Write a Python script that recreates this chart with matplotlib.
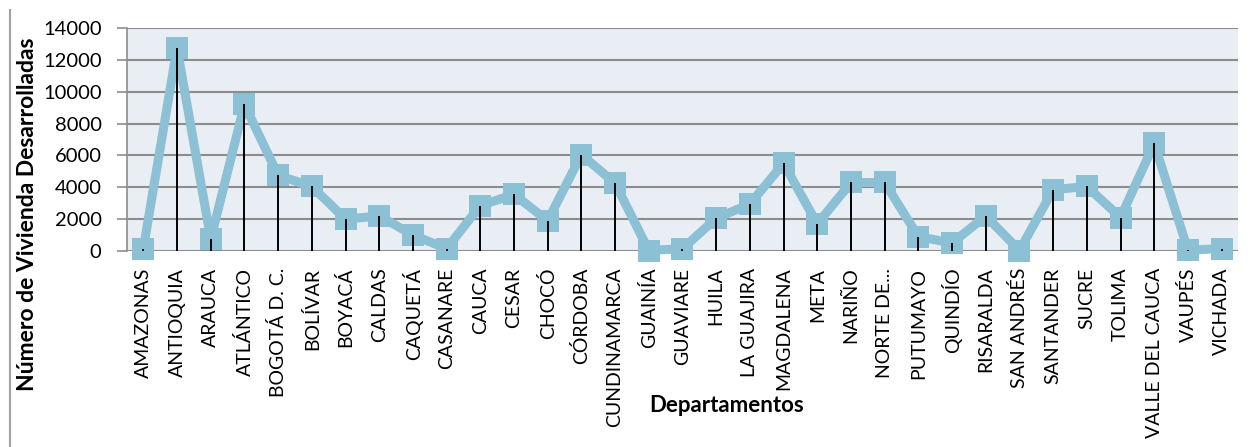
import matplotlib.pyplot as plt
from matplotlib.lines import Line2D

departamentos = ["AMAZONAS", "ANTIOQUIA", "ARAUCA", "ATLÁNTICO", "BOGOTÁ D. C.",
                 "BOLÍVAR", "BOYACÁ", "CALDAS", "CAQUETÁ", "CASANARE", "CAUCA",
                 "CESAR", "CHOCÓ", "CÓRDOBA", "CUNDINAMARCA", "GUAINÍA", "GUAVIARE",
                 "HUILA", "LA GUAJIRA", "MAGDALENA", "META", "NARIÑO", "NORTE DE...",
                 "PUTUMAYO", "QUINDÍO", "RISARALDA", "SAN ANDRÉS", "SANTANDER",
                 "SUCRE", "TOLIMA", "VALLE DEL CAUCA", "VAUPÉS", "VICHADA"]
viviendas = [150, 12750, 750, 9200, 4750, 4050, 2000, 2200, 1000, 150, 2850,
             3550, 1900, 6050, 4250, 30, 150, 2050, 2950, 5500, 1700, 4300, 4300,
             900, 500, 2200, 30, 3850, 4050, 2100, 6750, 50, 150]
yticks = [0, 2000, 4000, 6000, 8000, 10000, 12000, 14000]

plt.rcParams['font.family'] = ['Lato', 'DejaVu Sans']

fig = plt.figure(figsize=(12.5, 4.47), dpi=100, facecolor='white')
ax = fig.add_axes([0.1012, 0.4385, 0.8896, 0.4989])
ax.set_facecolor('#e8eef4')

x = list(range(len(departamentos)))
ax.plot(x, viviendas, color='#8cc0d4', lw=6.5, marker='s', markersize=16,
        markeredgewidth=0, solid_joinstyle='round', clip_on=False, zorder=3)
ax.vlines(x, 0, viviendas, color='black', lw=1.4, zorder=4)

ax.set_xlim(-0.5, len(departamentos) - 0.5)
ax.set_ylim(0, 14000)
ax.set_yticks(yticks)
ax.set_yticklabels([str(v) for v in yticks], fontsize=14.5)
ax.set_xticks(x)
ax.set_xticklabels(departamentos, rotation=90, fontsize=14, va='top', ha='center')
ax.tick_params(axis='x', length=0, pad=12)
ax.tick_params(axis='y', length=7, width=1.2, color='#8c8c8c', pad=11)

ax.grid(axis='y', color='#8c8c8c', lw=1.5, zorder=1)
ax.set_axisbelow(True)
for s in ['top', 'right', 'bottom']:
    ax.spines[s].set_visible(False)
ax.spines['left'].set_color('#8c8c8c')
ax.spines['left'].set_linewidth(1.2)

fig.text(727 / 1250, 1 - 406 / 447, 'Departamentos', fontsize=16, fontweight='bold',
         ha='center', va='center')
fig.text(28 / 1250, 1 - 214 / 447, 'Número de Vivienda Desarrolladas', fontsize=16.5,
         fontweight='bold', rotation=90, ha='center', va='center')

fig.add_artist(Line2D([10 / 1250, 10 / 1250], [0, 1 - 10 / 447], color='#a0a0a0', lw=1.5))

fig.savefig('out.png', dpi=100)
